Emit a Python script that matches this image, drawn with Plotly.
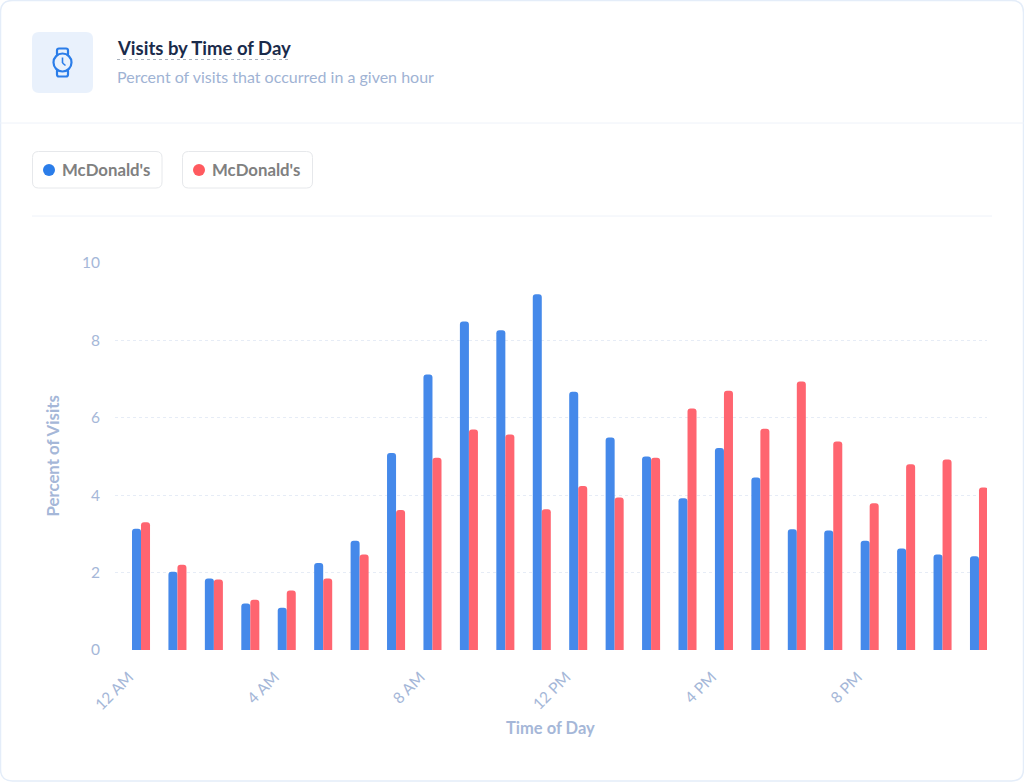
import plotly.graph_objects as go

hours = ["12 AM","1 AM","2 AM","3 AM","4 AM","5 AM","6 AM","7 AM","8 AM","9 AM","10 AM","11 AM",
         "12 PM","1 PM","2 PM","3 PM","4 PM","5 PM","6 PM","7 PM","8 PM","9 PM","10 PM","11 PM"]
blue_values = [3.13,2.02,1.85,1.2,1.09,2.25,2.82,5.09,7.12,8.49,8.26,9.19,6.67,5.49,5.0,3.92,5.22,4.46,3.12,3.09,2.82,2.62,2.47,2.42]
red_values = [3.3,2.2,1.82,1.3,1.54,1.85,2.47,3.62,4.97,5.7,5.57,3.64,4.24,3.94,4.97,6.24,6.7,5.72,6.94,5.39,3.79,4.8,4.92,4.2]
tick_labels = ["12 AM","4 AM","8 AM","12 PM","4 PM","8 PM"]
series_name = "McDonald's"
FONT = "Lato"
W, H = 1024, 782

def px(x): return x / W
def py(y): return 1 - y / H

def rrect(x0, y0, x1, y1, r, **kw):
    X0, X1, Y0, Y1 = px(x0), px(x1), py(y0), py(y1)
    rx, ry = r / W, r / H
    path = (f"M {X0+rx} {Y0} L {X1-rx} {Y0} Q {X1} {Y0} {X1} {Y0-ry} L {X1} {Y1+ry} Q {X1} {Y1} {X1-rx} {Y1} "
            f"L {X0+rx} {Y1} Q {X0} {Y1} {X0} {Y1+ry} L {X0} {Y0-ry} Q {X0} {Y0} {X0+rx} {Y0} Z")
    return dict(type="path", path=path, xref="paper", yref="paper", layer="below", **kw)

def line(x0, y0, x1, y1, color, width=1, dash="solid", layer="below"):
    return dict(type="line", xref="paper", yref="paper", x0=px(x0), x1=px(x1), y0=py(y0), y1=py(y1),
                line=dict(color=color, width=width, dash=dash), layer=layer)

def circle(cx, cy, r, fill, lc=None, lw=0):
    return dict(type="circle", xref="paper", yref="paper", x0=px(cx-r), x1=px(cx+r), y0=py(cy-r), y1=py(cy+r),
                fillcolor=fill, line=dict(color=lc or fill, width=lw), layer="below")

ICON = "#2b7de9"
shapes = [
    rrect(0.5, 0.5, 1023.5, 781, 12, fillcolor="white", line=dict(color="#e4edf9", width=1.5)),
    line(0, 123, 1024, 123, "#eef2f9"),
    line(32, 216, 992, 216, "#eef2f9"),
    rrect(32, 32, 93, 93, 7, fillcolor="#e9f1fc", line=dict(width=0)),
    # watch icon
    rrect(57, 48.5, 68, 56, 2, fillcolor="rgba(0,0,0,0)", line=dict(color=ICON, width=2.2)),
    rrect(57, 69, 68, 76.5, 2, fillcolor="rgba(0,0,0,0)", line=dict(color=ICON, width=2.2)),
    circle(62.5, 62.5, 9, "#e9f1fc", ICON, 2.2),
    line(62.5, 57.5, 62.5, 63, ICON, 1.6),
    line(62.5, 63, 65.5, 65.5, ICON, 1.6),
    line(117, 59.5, 291, 59.5, "#a9b1bd", 1, "dot"),
    # legend chips
    rrect(32.5, 151.5, 162, 188, 6, fillcolor="white", line=dict(color="#e6e8eb", width=1)),
    rrect(182.5, 151.5, 312.5, 188, 6, fillcolor="white", line=dict(color="#e6e8eb", width=1)),
    circle(49, 170, 6, "#2b7de9"),
    circle(199, 170, 6, "#ff5a5f"),
]

AXIS_TEXT = "#a5b7d8"

def note(text, x, y, size, color, bold=False, anchor="left", angle=0):
    return dict(text=f"<b>{text}</b>" if bold else text, x=px(x), y=py(y), xref="paper", yref="paper",
                xanchor=anchor, yanchor="middle", showarrow=False, textangle=angle,
                font=dict(family=FONT, size=size, color=color))

annotations = [
    note("Visits by Time of Day", 115, 48, 18.5, "#1a2b4b", True),
    note("Percent of visits that occurred in a given hour", 115, 77, 16, "#9fb3d4"),
    note(series_name, 60, 170, 16.8, "#808080", True),
    note(series_name, 210, 170, 16.8, "#808080", True),
    note("Time of Day", 550.5, 728, 16.5, AXIS_TEXT, True, "center"),
    note("Percent of Visits", 52, 456.5, 16.8, AXIS_TEXT, True, "center", -90),
]

fig = go.Figure()
fig.add_bar(x=hours, y=blue_values, name=series_name, marker=dict(color="#4589ea", line_width=0))
fig.add_bar(x=hours, y=red_values, name=series_name + " ", marker=dict(color="#ff6570", line_width=0))

fig.update_layout(
    width=W, height=H, margin=dict(l=0, r=0, t=0, b=0, autoexpand=False),
    paper_bgcolor="white", plot_bgcolor="rgba(0,0,0,0)",
    barmode="group", bargap=0.505, bargroupgap=0, barcornerradius=3,
    showlegend=False, shapes=shapes, annotations=annotations,
    font=dict(family=FONT, color=AXIS_TEXT),
)
fig.update_xaxes(
    domain=[px(115), px(987)], range=[-0.714, 23.22], type="category", automargin=False,
    categoryorder="array", categoryarray=hours,
    tickmode="array", tickvals=tick_labels, ticktext=tick_labels, ticklabelshift=-12,
    tickangle=-45, tickfont=dict(size=15.5, color=AXIS_TEXT), ticks="outside", ticklen=11, tickcolor="rgba(0,0,0,0)",
    showgrid=False, showline=False, zeroline=False,
)
fig.update_yaxes(
    domain=[py(650), py(263)], range=[0, 10], tickmode="array", tickvals=[0,2,4,6,8,10], automargin=False,
    tickfont=dict(size=15.5, color=AXIS_TEXT), ticks="outside", ticklen=11, tickcolor="rgba(0,0,0,0)",
    showgrid=True, gridcolor="#e6ecf6", griddash="dot", gridwidth=1, showline=False, zeroline=False,
)

fig.write_html("out.html", config=dict(displayModeBar=False),
               post_script="document.body.style.margin='0';document.body.style.overflow='hidden';")
